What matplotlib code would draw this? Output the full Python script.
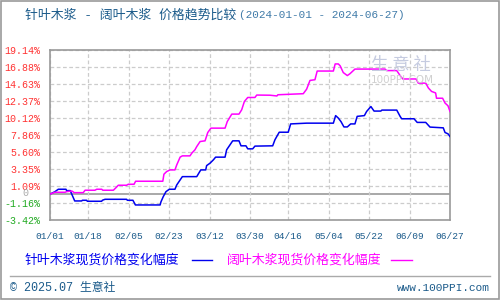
import matplotlib
matplotlib.use("Agg")
import matplotlib.pyplot as plt
from matplotlib.lines import Line2D
from matplotlib.patches import Rectangle, Polygon

plt.rcParams['font.family'] = ['Noto Sans CJK SC', 'DejaVu Sans']
MONO_CJK = ['Liberation Mono', 'Noto Sans CJK SC']

title_main = "针叶木浆 - 阔叶木浆 价格趋势比较"
title_dates = "(2024-01-01 - 2024-06-27)"
series_names = ["针叶木浆现货价格变化幅度", "阔叶木浆现货价格变化幅度"]
series_colors = ["#0000ee", "#ff00ff"]

# x: days since 2024-01-01
x_tick_days = [0, 17, 35, 53, 71, 89, 106, 124, 142, 160, 178]
x_tick_labels = ["01/01", "01/18", "02/05", "02/23", "03/12", "03/30",
                 "04/16", "05/04", "05/22", "06/09", "06/27"]
y_ticks = [-3.42, -1.16, 1.09, 3.35, 5.60, 7.86, 10.12, 12.37, 14.63, 16.88, 19.14]
y_tick_labels = ["-3.42%", "-1.16%", "1.09%", "3.35%", "5.60%", "7.86%",
                 "10.12%", "12.37%", "14.63%", "16.88%", "19.14%"]

softwood_days = [0, 2.2, 3.7, 7.1, 7.4, 9.0, 11.0, 14.1, 14.4, 16.3, 16.6, 23.0, 23.3,
                 24.5, 34.1, 34.4, 36.9, 38.0, 49.0, 49.4, 50.4, 51.6, 53.1, 55.6, 56.4,
                 57.9, 58.9, 65.3, 66.2, 67.1, 69.3, 69.7, 71.2, 72.7, 73.7, 77.9, 78.6,
                 80.1, 81.3, 84.1, 85.0, 87.2, 88.0, 90.2, 91.2, 99.1, 100.1, 102.0,
                 106.0, 107.1, 114.2, 126.1, 127.1, 128.3, 129.5, 130.8, 132.3, 133.8,
                 135.7, 136.7, 139.9, 140.9, 142.8, 144.2, 147.2, 147.7, 154.3, 155.8,
                 156.5, 162.0, 163.4, 167.2, 169.1, 175.0, 175.8, 177.1, 178.0]
softwood_vals = [0, 0.33, 0.65, 0.65, 0.47, 0.47, -0.90, -0.90, -0.81, -0.81, -0.94, -0.94,
                 -0.81, -0.68, -0.68, -0.81, -0.81, -1.43, -1.43, -1.00, -0.33, 0.33, 0.65,
                 0.65, 1.22, 1.88, 2.32, 2.32, 2.77, 3.21, 3.21, 3.78, 4.10, 4.54, 4.90,
                 4.90, 5.87, 6.53, 7.06, 7.06, 6.40, 6.40, 6.00, 6.00, 6.36, 6.40, 7.20,
                 8.20, 8.20, 9.30, 9.40, 9.40, 10.40, 10.07, 9.60, 8.90, 8.90, 9.30, 9.30,
                 10.30, 10.40, 10.95, 11.60, 11.00, 11.00, 11.13, 11.13, 10.30, 9.98,
                 9.98, 9.50, 9.50, 8.88, 8.78, 8.16, 7.99, 7.63]

hardwood_days = [0, 2.2, 6.7, 7.4, 9.7, 10.8, 14.8, 15.6, 20.0, 20.8, 23.0, 23.5, 28.2,
                 29.4, 30.4, 34.1, 34.8, 37.4, 38.1, 50.2, 50.7, 51.9, 53.4, 55.6, 56.4,
                 57.9, 58.9, 62.3, 63.1, 64.5, 65.3, 66.8, 69.0, 70.2, 71.6, 77.9, 78.9,
                 80.9, 84.1, 85.3, 86.5, 88.0, 91.2, 92.0, 97.9, 101.0, 101.4, 112.7,
                 114.2, 115.7, 117.9, 118.9, 126.1, 126.9, 128.3, 129.1, 130.5, 132.3,
                 133.5, 135.7, 149.1, 149.8, 154.3, 155.8, 157.0, 162.9, 163.9, 167.2,
                 168.4, 169.8, 171.6, 172.0, 174.7, 175.8, 177.1, 178.0]
hardwood_vals = [0, 0.25, 0.25, 0.33, 0.42, 0.20, 0.20, 0.52, 0.52, 0.65, 0.65, 0.52, 0.52,
                 0.87, 1.18, 1.18, 1.31, 1.31, 1.71, 1.71, 2.64, 2.99, 3.21, 3.21, 3.87,
                 4.90, 5.07, 5.07, 5.43, 5.87, 6.30, 6.97, 7.06, 8.16, 8.74, 8.74, 9.62,
                 10.60, 10.60, 11.17, 12.27, 12.80, 12.80, 13.12, 13.10, 13.00, 13.16,
                 13.30, 13.90, 15.06, 15.15, 16.30, 16.30, 17.24, 17.24, 17.00, 16.10,
                 15.70, 15.95, 16.56, 16.56, 16.36, 16.36, 15.70, 15.25, 15.25, 14.70,
                 14.70, 14.05, 13.60, 13.40, 12.70, 12.70, 12.06, 11.70, 10.95]

fig = plt.figure(figsize=(5, 3), dpi=100)
fig.patch.set_facecolor("white")
# outer frame
fig.add_artist(Rectangle((0.001, 0.002), 0.997, 0.995, transform=fig.transFigure,
                         fill=False, edgecolor="#999999", linewidth=1.2))

ax = fig.add_axes([0.1, 0.2667, 0.8, 0.568])
ax.set_xlim(0, 178)
ax.set_ylim(-3.42, 19.14)

for sp in ax.spines.values():
    sp.set_color("#999999")
    sp.set_linewidth(1.2)

ax.set_yticks(y_ticks)
ax.set_yticklabels(y_tick_labels, family="Liberation Mono", fontsize=7.2)
for lbl, v in zip(ax.get_yticklabels(), y_ticks):
    lbl.set_color("#ff3333" if v > 0 else "#22aa22")
ax.set_xticks(x_tick_days)
ax.set_xticklabels(x_tick_labels, family="Liberation Mono", fontsize=6.8, color="#1a5a8a")
ax.tick_params(length=0, pad=7)
ax.tick_params(axis="x", pad=9)
ax.grid(True, color="#cccccc", linestyle=(0, (3, 2)), linewidth=0.9)
ax.axhline(0, color="#999999", linewidth=1.2, zorder=1)
ax.text(-0.07, 0.1, "0", transform=ax.get_yaxis_transform(), color="#aaaaaa",
        family="Liberation Mono", fontsize=7.2, ha="left", va="center")

# watermark
fig.text(0.802, 0.783, "生 意 社", color="#c5cbe0", fontsize=12.5, ha="center", va="center", zorder=0)
fig.text(0.804, 0.733, "100PPI.COM", color="#d0d0d0", family="DejaVu Sans", fontsize=7.5,
         ha="center", va="center", zorder=0)
fig.add_artist(Polygon([[0.684, 0.777], [0.726, 0.777], [0.705, 0.813]], closed=True,
                       transform=fig.transFigure, facecolor="#f2c0b8", edgecolor="none", zorder=0))
fig.add_artist(Polygon([[0.684, 0.76], [0.726, 0.76], [0.705, 0.723]], closed=True,
                       transform=fig.transFigure, facecolor="#c8e8c8", edgecolor="none", zorder=0))

ax.plot(softwood_days, softwood_vals, color=series_colors[0], linewidth=1.1, zorder=3)
ax.plot(hardwood_days, hardwood_vals, color=series_colors[1], linewidth=1.1, zorder=3)

fig.text(0.05, 0.95, title_main, color="#1a5a8a", family=MONO_CJK, fontsize=9.3,
         ha="left", va="center")
fig.text(0.478, 0.95, title_dates, color="#3f7aa8", family="Liberation Mono", fontsize=7.9,
         ha="left", va="center")

# legend
fig.text(0.05, 0.133, series_names[0], color=series_colors[0], fontsize=9.3, ha="left", va="center")
fig.add_artist(Line2D([0.383, 0.424], [0.133, 0.133], color=series_colors[0], linewidth=1.0))
fig.text(0.453, 0.133, series_names[1], color=series_colors[1], fontsize=9.3, ha="left", va="center")
fig.add_artist(Line2D([0.782, 0.823], [0.133, 0.133], color=series_colors[1], linewidth=1.0))

# footer
fig.add_artist(Line2D([0.02, 0.98], [0.08, 0.08], color="#aaaaaa", linewidth=1.0))
fig.text(0.02, 0.04, "© 2025.07 生意社", color="#1a5a8a", family=MONO_CJK, fontsize=8.5,
         ha="left", va="center")
fig.text(0.98, 0.04, "www.100PPI.com", color="#1a5a8a", family="Liberation Mono", fontsize=8,
         ha="right", va="center")

fig.savefig("out.png", dpi=100, facecolor="white")
